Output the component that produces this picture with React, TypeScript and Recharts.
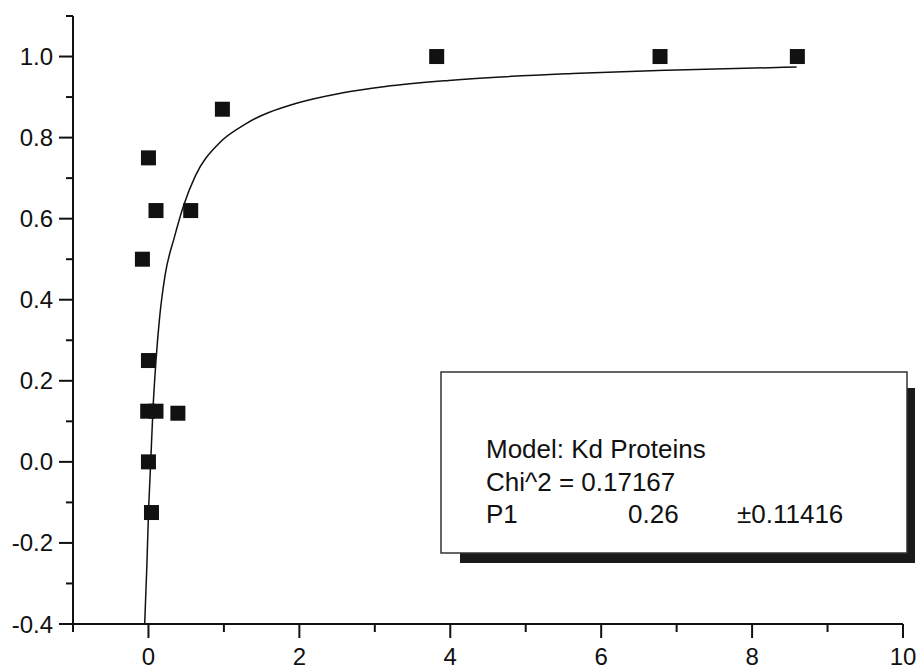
import React from 'react';
import { ComposedChart, Scatter, Line, XAxis, YAxis } from 'recharts';

// measured points (x, fraction bound)
const pointX = [0, 0.1, 0.56, -0.08, 0.98, 3.82, 6.78, 8.6, 0, -0.01, 0.1, 0.39, 0, 0.04];
const pointY = [0.75, 0.62, 0.62, 0.5, 0.87, 1.0, 1.0, 1.0, 0.25, 0.125, 0.125, 0.12, 0.0, -0.125];

// fitted curve
const fitX = [-0.05, -0.02, 0.0, 0.03, 0.06, 0.1, 0.15, 0.22, 0.345, 0.465, 0.62, 0.93, 1.3, 1.95, 2.56, 3.14, 3.98, 5.62, 6.87, 8.59];
const fitY = [-0.4, -0.25, -0.13, 0.0, 0.13, 0.25, 0.36, 0.46, 0.555, 0.632, 0.705, 0.785, 0.835, 0.884, 0.91, 0.926, 0.941, 0.958, 0.966, 0.974];

const xTicks = [-1, 0, 1, 2, 3, 4, 5, 6, 7, 8, 9, 10];
const xLabels = [0, 2, 4, 6, 8, 10];
const yTicks = [-0.4, -0.3, -0.2, -0.1, 0, 0.1, 0.2, 0.3, 0.4, 0.5, 0.6, 0.7, 0.8, 0.9, 1.0, 1.1];
const yLabels = [-0.4, -0.2, 0, 0.2, 0.4, 0.6, 0.8, 1.0];

const modelText = 'Model: Kd Proteins';
const chiText = 'Chi^2 = 0.17167';
const paramName = 'P1';
const paramValue = '0.26';
const paramError = '±0.11416';

const points = pointX.map((x, i) => ({ x, y: pointY[i] }));
const fit = fitX.map((x, i) => ({ x, y: fitY[i] }));

const FONT = '"Liberation Sans", Arial, sans-serif';
const INK = '#111';

const isLabel = (list: number[], v: number) => list.some(l => Math.abs(l - v) < 1e-6);

const XTick = (props: any) => {
  const { x, y, payload } = props;
  const major = isLabel(xLabels, payload.value);
  return (
    <g>
      <line x1={x} x2={x} y1={y} y2={y + (major ? 14 : 8)} stroke={INK} strokeWidth={2} />
      {major && (
        <text x={x} y={y + 32} textAnchor="middle" dominantBaseline="central" fontSize={24} fontFamily={FONT} fill={INK}>
          {payload.value}
        </text>
      )}
    </g>
  );
};

const YTick = (props: any) => {
  const { x, y, payload } = props;
  const major = isLabel(yLabels, payload.value);
  return (
    <g>
      <line x1={x} x2={x - (major ? 14 : 7)} y1={y} y2={y} stroke={INK} strokeWidth={2} />
      {major && (
        <text x={x - 20} y={y} textAnchor="end" dominantBaseline="central" fontSize={24} fontFamily={FONT} fill={INK}>
          {payload.value.toFixed(1)}
        </text>
      )}
    </g>
  );
};

const Square = (props: any) => {
  const { cx, cy } = props;
  return <rect x={cx - 7.5} y={cy - 7.5} width={15} height={15} fill={INK} />;
};

export default function App() {
  return (
    <div style={{ position: 'absolute', left: 0, top: 0, width: 917, height: 668, background: '#fff' }}>
      <ComposedChart width={917} height={668} margin={{ top: 16, right: 14, left: 0, bottom: 0 }}>
        <XAxis
          type="number"
          dataKey="x"
          domain={[-1, 10]}
          ticks={xTicks}
          interval={0}
          tickSize={0}
          tickMargin={0}
          tickLine={false}
          tick={<XTick />}
          height={44}
          axisLine={{ stroke: INK, strokeWidth: 2 }}
        />
        <YAxis
          type="number"
          dataKey="y"
          domain={[-0.4, 1.1]}
          ticks={yTicks}
          interval={0}
          tickSize={0}
          tickMargin={0}
          tickLine={false}
          tick={<YTick />}
          width={73}
          axisLine={{ stroke: INK, strokeWidth: 2 }}
        />
        <Line data={fit} dataKey="y" type="monotone" stroke={INK} strokeWidth={1.5} dot={false} isAnimationActive={false} />
        <Scatter data={points} dataKey="y" shape={<Square />} isAnimationActive={false} />
      </ComposedChart>
      <svg width={917} height={668} style={{ position: 'absolute', left: 0, top: 0, pointerEvents: 'none' }}>
        <rect x={460} y={388} width={455} height={175} fill="#1a1a1a" />
        <rect x={441} y={372} width={466} height={181} fill="#fff" stroke="#333" strokeWidth={1.5} />
        <g fontFamily={FONT} fontSize={26} fill={INK}>
          <text x={486} y={458}>{modelText}</text>
          <text x={486} y={491}>{chiText}</text>
          <text x={486} y={523}>{paramName}</text>
          <text x={628} y={523}>{paramValue}</text>
          <text x={737} y={523}>{paramError}</text>
        </g>
      </svg>
    </div>
  );
}
